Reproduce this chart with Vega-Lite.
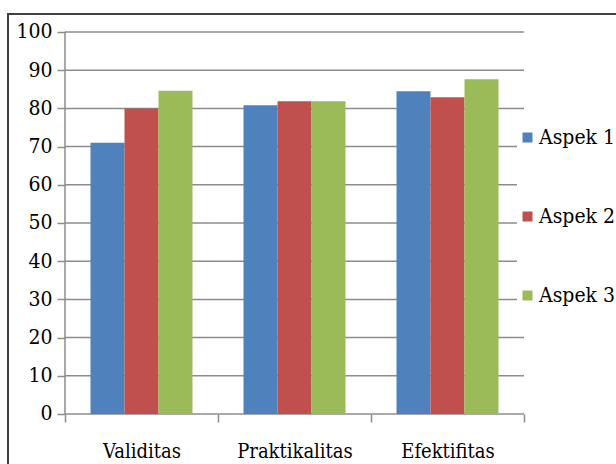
{
  "$schema": "https://vega.github.io/schema/vega-lite/v6.json",
  "width": 620,
  "height": 470,
  "autosize": {"type": "none"},
  "padding": {"left": 8, "top": 14, "right": 0, "bottom": 0},
  "background": "white",
  "config": {
    "view": {"stroke": "#404040", "strokeWidth": 2}
  },
  "datasets": {
    "scores": [
      {"kategori": "Validitas", "aspek": "Aspek 1", "nilai": 71},
      {"kategori": "Validitas", "aspek": "Aspek 2", "nilai": 80},
      {"kategori": "Validitas", "aspek": "Aspek 3", "nilai": 84.6},
      {"kategori": "Praktikalitas", "aspek": "Aspek 1", "nilai": 80.8},
      {"kategori": "Praktikalitas", "aspek": "Aspek 2", "nilai": 81.9},
      {"kategori": "Praktikalitas", "aspek": "Aspek 3", "nilai": 81.9},
      {"kategori": "Efektifitas", "aspek": "Aspek 1", "nilai": 84.5},
      {"kategori": "Efektifitas", "aspek": "Aspek 2", "nilai": 82.9},
      {"kategori": "Efektifitas", "aspek": "Aspek 3", "nilai": 87.6}
    ],
    "grid": [
      {"v": 0}, {"v": 10}, {"v": 20}, {"v": 30}, {"v": 40}, {"v": 50},
      {"v": 60}, {"v": 70}, {"v": 80}, {"v": 90}, {"v": 100}
    ]
  },
  "layer": [
    {
      "data": {"name": "grid"},
      "mark": {"type": "rule", "color": "#8c8c8c", "strokeWidth": 1.5},
      "encoding": {
        "y": {
          "field": "v", "type": "quantitative",
          "scale": {"domain": [-18.325, 104.712], "nice": false, "zero": false},
          "axis": {"title": null, "offset": -57, "domain": false, "grid": false, "values": [0,10,20,30,40,50,60,70,80,90,100], "tickSize": 8, "tickColor": "#8c8c8c", "tickWidth": 1.5, "labelFont": "DejaVu Serif Condensed", "labelFontSize": 21, "labelColor": "black", "labelPadding": 5, "labelBound": false, "labelOverlap": false}
        },
        "x": {
          "datum": "Validitas", "type": "nominal", "bandPosition": 0,
          "scale": {"domain": ["Validitas", "Praktikalitas", "Efektifitas"], "paddingInner": 0, "paddingOuter": 0.5261, "align": 0.354},
          "axis": {"title": null, "offset": -70, "domain": false, "grid": false, "tickBand": "extent", "tickSize": 8, "tickColor": "#8c8c8c", "tickWidth": 1.5, "labelAngle": 0, "labelFont": "DejaVu Serif Condensed", "labelFontSize": 20, "labelColor": "black", "labelPadding": 19}
        },
        "x2": {"datum": "Efektifitas", "bandPosition": 1}
      }
    },
    {
      "data": {"values": [{}]},
      "mark": {"type": "rule", "color": "#8c8c8c", "strokeWidth": 1.5},
      "encoding": {
        "x": {"datum": "Validitas", "type": "nominal", "bandPosition": 0},
        "y": {"datum": 0, "type": "quantitative"},
        "y2": {"datum": 100}
      }
    },
    {
      "data": {"name": "scores"},
      "mark": {"type": "bar"},
      "encoding": {
        "x": {"field": "kategori", "type": "nominal", "sort": ["Validitas", "Praktikalitas", "Efektifitas"]},
        "xOffset": {"field": "aspek", "type": "nominal", "scale": {"paddingInner": 0, "paddingOuter": 0.75}},
        "y": {"field": "nilai", "type": "quantitative"},
        "y2": {"datum": 0},
        "color": {
          "field": "aspek", "type": "nominal",
          "scale": {"domain": ["Aspek 1", "Aspek 2", "Aspek 3"], "range": ["#4F81BD", "#C0504D", "#9BBB59"]},
          "legend": {"orient": "none", "legendX": 509, "legendY": 113, "title": null, "padding": 0, "fillColor": "white", "strokeColor": null, "symbolType": "square", "symbolSize": 100, "symbolStrokeWidth": 0, "labelFont": "DejaVu Serif Condensed", "labelFontSize": 21, "labelColor": "black", "rowPadding": 57, "labelOffset": 1}
        }
      }
    }
  ]
}
